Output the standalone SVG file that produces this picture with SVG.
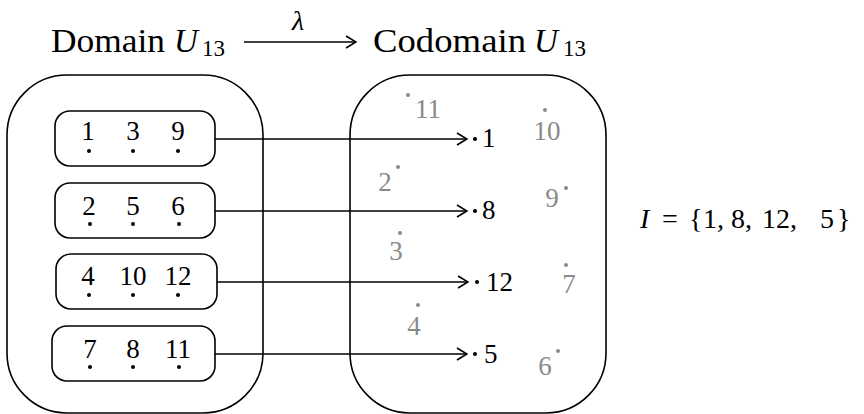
<svg xmlns="http://www.w3.org/2000/svg" width="864" height="414" viewBox="0 0 864 414" font-family="'Liberation Serif', 'DejaVu Serif', serif">
<defs>
<style>
text{font-family:"Liberation Serif","DejaVu Serif",serif;fill:#000}
.big{font-size:33px}
.sub{font-size:23px}
.it{font-style:italic}
.num{font-size:27px;text-anchor:middle}
.g{fill:#8a8a8a}
.box{fill:none;stroke:#000;stroke-width:1.6}
.ln{fill:none;stroke:#000;stroke-width:1.6}
</style>
<marker id="ah" viewBox="0 0 12 14" refX="11" refY="7" markerWidth="12" markerHeight="14" markerUnits="userSpaceOnUse" orient="auto">
<path d="M1,1 L11,7 L1,13" fill="none" stroke="#000" stroke-width="1.6"/>
</marker>
</defs>
<g id="title">
<text class="big" x="51" y="52" textLength="114" lengthAdjust="spacingAndGlyphs">Domain</text>
<text class="big it" x="174" y="52">U</text>
<text class="sub" x="202" y="56">13</text>
<text class="big" x="373" y="52" textLength="153" lengthAdjust="spacingAndGlyphs">Codomain</text>
<text class="big it" x="534" y="52">U</text>
<text class="sub" x="563" y="56">13</text>
<text font-size="28" font-style="italic" x="298" y="30" text-anchor="middle">λ</text>
</g>
<g id="domain">
<rect class="box" x="7" y="75" width="256" height="338" rx="60" ry="60"/>
</g>
<g id="codomain">
<rect class="box" x="350" y="75" width="256" height="338" rx="60" ry="60"/>
</g>
<g id="class1">
<rect class="box" x="55" y="111" width="160" height="55" rx="15"/>
<text class="num" x="88" y="140">1</text><text class="num" x="133" y="140">3</text><text class="num" x="178" y="140">9</text>
<circle cx="89" cy="151" r="2"/><circle cx="133" cy="151" r="2"/><circle cx="178" cy="151" r="2"/>
</g>
<g id="class2">
<rect class="box" x="55" y="183" width="160" height="55" rx="15"/>
<text class="num" x="89" y="215">2</text><text class="num" x="133" y="215">5</text><text class="num" x="178" y="215">6</text>
<circle cx="90" cy="224" r="2"/><circle cx="133" cy="224" r="2"/><circle cx="179" cy="224" r="2"/>
</g>
<g id="class3">
<rect class="box" x="56" y="254" width="161" height="55" rx="15"/>
<text class="num" x="88" y="285">4</text><text class="num" x="133" y="285">10</text><text class="num" x="178" y="285">12</text>
<circle cx="89" cy="295" r="2"/><circle cx="133" cy="295" r="2"/><circle cx="178" cy="295" r="2"/>
</g>
<g id="class4">
<rect class="box" x="52" y="326" width="163" height="55" rx="15"/>
<text class="num" x="90" y="358">7</text><text class="num" x="133" y="358">8</text><text class="num" x="178" y="358">11</text>
<circle cx="90" cy="367" r="2"/><circle cx="133" cy="367" r="2"/><circle cx="179" cy="367" r="2"/>
</g>
<g id="images">
<circle cx="475" cy="139" r="2"/><text font-size="27" x="482" y="147">1</text>
<circle cx="475" cy="211" r="2"/><text font-size="27" x="482" y="219">8</text>
<circle cx="477" cy="282" r="2"/><text font-size="27" x="486" y="291">12</text>
<circle cx="475" cy="354" r="2"/><text font-size="27" x="484" y="363">5</text>
</g>
<g id="others">
<circle class="g" cx="408" cy="95" r="2"/><text class="num g" x="428" y="118">11</text>
<circle class="g" cx="545" cy="110" r="2"/><text class="num g" x="547" y="140">10</text>
<circle class="g" cx="398" cy="167" r="2"/><text class="num g" x="385" y="191">2</text>
<circle class="g" cx="566" cy="188" r="2"/><text class="num g" x="552" y="207">9</text>
<circle class="g" cx="400" cy="233" r="2"/><text class="num g" x="396" y="260">3</text>
<circle class="g" cx="566" cy="265" r="2"/><text class="num g" x="569" y="293">7</text>
<circle class="g" cx="418" cy="305" r="2"/><text class="num g" x="414" y="335">4</text>
<circle class="g" cx="558" cy="351" r="2"/><text class="num g" x="545" y="375">6</text>
</g>
<g id="connectors">
<line class="ln" x1="244" y1="42" x2="356" y2="42" marker-end="url(#ah)"/>
<line class="ln" x1="215" y1="139" x2="467" y2="139" marker-end="url(#ah)"/>
<line class="ln" x1="215" y1="211" x2="467" y2="211" marker-end="url(#ah)"/>
<line class="ln" x1="217" y1="282" x2="468" y2="282" marker-end="url(#ah)"/>
<line class="ln" x1="215" y1="354" x2="467" y2="354" marker-end="url(#ah)"/>
</g>
<g id="imageset" font-size="28">
<text x="640" y="228"><tspan class="it" x="640">I</tspan><tspan x="662">=</tspan><tspan x="689">{</tspan><tspan x="703">1,</tspan><tspan x="731">8,</tspan><tspan x="762">12,</tspan><tspan x="820">5</tspan><tspan x="837">}</tspan></text>
</g>
</svg>
